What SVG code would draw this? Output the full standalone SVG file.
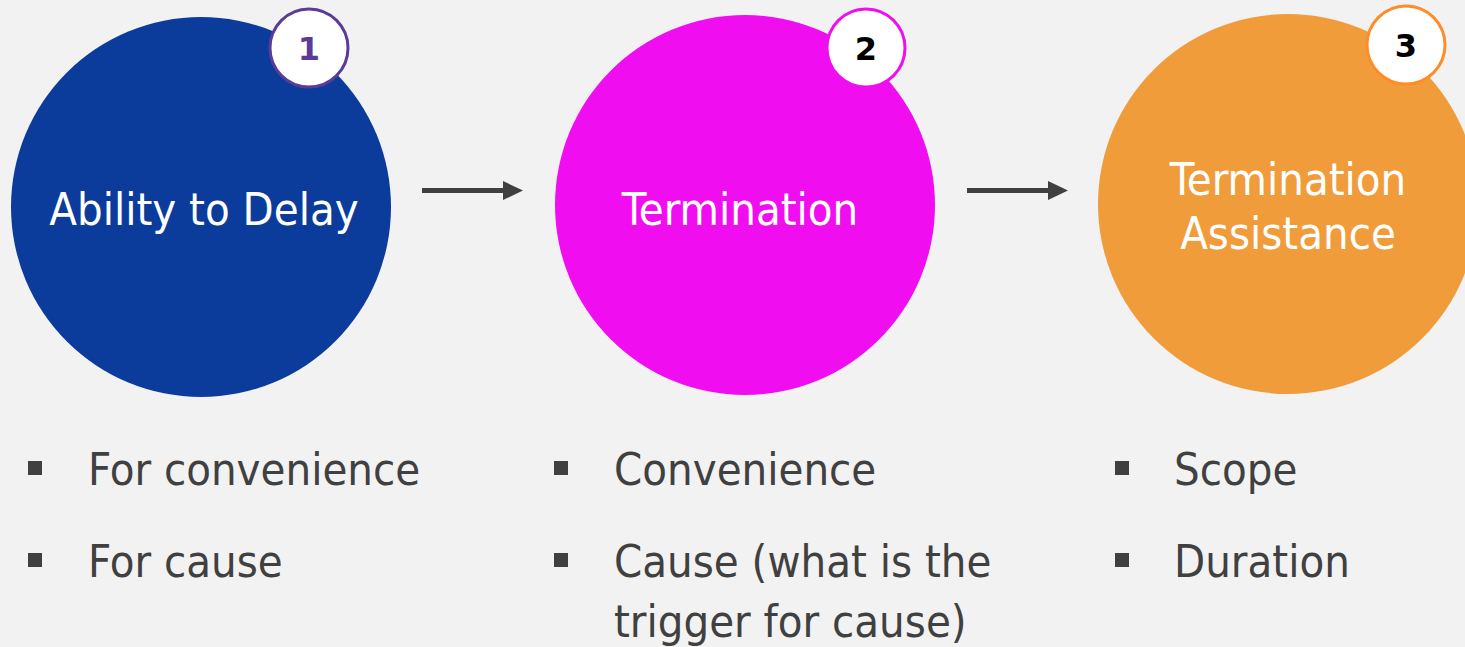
<svg xmlns="http://www.w3.org/2000/svg" width="1465" height="647" viewBox="0 0 1465 647">
  <defs>
    <style>
      .bg { fill: #f2f2f2; }
      .ctext { font-family: "DejaVu Sans Condensed", "DejaVu Sans", sans-serif; font-stretch: condensed; font-size: 45px; fill: #ffffff; text-anchor: middle; }
      .badge { fill: #ffffff; stroke-width: 3; }
      .btext { font-family: "DejaVu Sans", sans-serif; font-weight: bold; font-size: 32px; text-anchor: middle; }
      .item { font-family: "DejaVu Sans Condensed", "DejaVu Sans", sans-serif; font-stretch: condensed; font-size: 45px; fill: #404040; }
      .bullet { fill: #404040; }
      .conn { stroke: #404040; stroke-width: 5; fill: none; }
      .head { fill: #404040; }
    </style>
  </defs>
  <rect class="bg" x="0" y="0" width="1465" height="647"/>

  <g id="node1">
    <circle cx="201" cy="207" r="190" fill="#0b3c9b"/>
    <text class="ctext" x="204" y="225">Ability to Delay</text>
    <circle class="badge" cx="309" cy="48" r="39" stroke="#5a3b98"/>
    <text class="btext" x="309" y="60" fill="#5a3b98">1</text>
    <rect class="bullet" x="28" y="461" width="14" height="14"/>
    <text class="item" x="88" y="485">For convenience</text>
    <rect class="bullet" x="28" y="553" width="14" height="14"/>
    <text class="item" x="88" y="577">For cause</text>
  </g>

  <g id="node2">
    <circle cx="745" cy="205" r="190" fill="#f00ef0"/>
    <text class="ctext" x="740" y="225">Termination</text>
    <circle class="badge" cx="866" cy="48" r="39" stroke="#f00ef0"/>
    <text class="btext" x="866" y="60" fill="#000000">2</text>
    <rect class="bullet" x="554" y="461" width="14" height="14"/>
    <text class="item" x="614" y="485">Convenience</text>
    <rect class="bullet" x="554" y="553" width="14" height="14"/>
    <text class="item" x="614" y="577">Cause (what is the</text>
    <text class="item" x="614" y="637">trigger for cause)</text>
  </g>

  <g id="node3">
    <circle cx="1288" cy="204" r="190" fill="#f09c3b"/>
    <text class="ctext" x="1288" y="195">Termination</text>
    <text class="ctext" x="1288" y="249">Assistance</text>
    <circle class="badge" cx="1406" cy="45" r="39" stroke="#ff8c26"/>
    <text class="btext" x="1406" y="57" fill="#000000">3</text>
    <rect class="bullet" x="1115" y="461" width="14" height="14"/>
    <text class="item" x="1174" y="485">Scope</text>
    <rect class="bullet" x="1115" y="553" width="14" height="14"/>
    <text class="item" x="1174" y="577">Duration</text>
  </g>

  <g id="connectors">
    <line class="conn" x1="422" y1="190.5" x2="505" y2="190.5"/>
    <polygon class="head" points="503,181 523,190.5 503,200"/>
    <line class="conn" x1="967" y1="190.5" x2="1050" y2="190.5"/>
    <polygon class="head" points="1048,181 1068,190.5 1048,200"/>
  </g>
</svg>
